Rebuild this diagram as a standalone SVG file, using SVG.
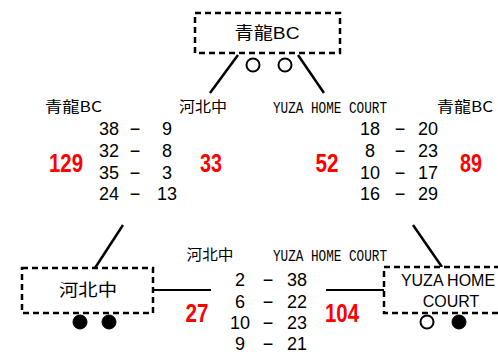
<svg xmlns="http://www.w3.org/2000/svg" width="498" height="352" viewBox="0 0 498 352">
<style>
.box{fill:#fff;stroke:#000;stroke-width:2.5;stroke-dasharray:6 4}
.conn{stroke:#000;stroke-width:2.5;fill:none}
.hconn{stroke:#000;stroke-width:2;fill:none}
.nodetxt{font-family:"Liberation Sans","Noto Sans CJK JP",sans-serif;font-size:17px;fill:#000;text-anchor:middle}
.nodetxt16{font-family:"Liberation Sans",sans-serif;font-size:16px;fill:#000;text-anchor:middle}
.lbl{font-family:"Noto Sans CJK JP","Liberation Sans",sans-serif;font-size:15px;fill:#000;text-anchor:middle}
.mono{font-family:"Liberation Mono",monospace;font-size:17px;fill:#000;text-anchor:middle}
.num{font-family:"Liberation Sans",sans-serif;font-size:18px;fill:#000;text-anchor:middle}
.tot{font-family:"Liberation Sans",sans-serif;font-size:26px;font-weight:bold;fill:#ff0000;text-anchor:middle}
.open{fill:#fff;stroke:#000;stroke-width:2}
.fill{fill:#000;stroke:#000;stroke-width:1}
</style>

<g id="connectors">
<line class="conn" x1="238" y1="55" x2="210" y2="93"/>
<line class="conn" x1="298" y1="55" x2="324" y2="93"/>
<line class="conn" x1="95" y1="268" x2="123" y2="225"/>
<line class="conn" x1="442" y1="267" x2="413" y2="225"/>
<line class="hconn" x1="153" y1="290" x2="211" y2="290"/>
<line class="hconn" x1="326" y1="290" x2="385" y2="290"/>
</g>

<g id="node-seiryu">
<rect class="box" x="195" y="13" width="145" height="40"/>
<text class="nodetxt" x="267" y="39" textLength="65" lengthAdjust="spacingAndGlyphs">青龍BC</text>
<circle class="open" cx="253" cy="65" r="6.5"/>
<circle class="open" cx="285" cy="65" r="6.5"/>
</g>

<g id="node-kahoku">
<rect class="box" x="22" y="268" width="131" height="45"/>
<text class="nodetxt" x="88" y="296" textLength="58" lengthAdjust="spacingAndGlyphs">河北中</text>
<circle class="fill" cx="80" cy="322" r="7"/>
<circle class="fill" cx="109" cy="322" r="7"/>
</g>

<g id="node-yuza">
<rect class="box" x="384" y="267" width="134" height="46"/>
<text class="nodetxt16" x="448" y="286">YUZA HOME</text>
<text class="nodetxt16" x="451" y="307">COURT</text>
<circle class="open" cx="427" cy="322" r="6.5"/>
<circle class="fill" cx="459" cy="322" r="7"/>
</g>

<g id="match-seiryu-kahoku">
<text class="lbl" x="73.5" y="112" textLength="57" lengthAdjust="spacingAndGlyphs">青龍BC</text>
<text class="lbl" x="203" y="112" textLength="48" lengthAdjust="spacingAndGlyphs">河北中</text>
<text class="num" x="109" y="134.5">38</text><text class="num" x="135" y="134.5">−</text><text class="num" x="167" y="134.5">9</text>
<text class="num" x="109" y="157">32</text><text class="num" x="135" y="157">−</text><text class="num" x="167" y="157">8</text>
<text class="num" x="109" y="178.5">35</text><text class="num" x="135" y="178.5">−</text><text class="num" x="167" y="178.5">3</text>
<text class="num" x="109" y="199.5">24</text><text class="num" x="135" y="199.5">−</text><text class="num" x="167" y="199.5">13</text>
<text class="tot" x="66" y="171.5" textLength="34" lengthAdjust="spacingAndGlyphs">129</text>
<text class="tot" x="211" y="171.5" textLength="22" lengthAdjust="spacingAndGlyphs">33</text>
</g>

<g id="match-yuza-seiryu">
<text class="mono" x="330" y="112.5" textLength="114" lengthAdjust="spacingAndGlyphs">YUZA HOME COURT</text>
<text class="lbl" x="465" y="112" textLength="56" lengthAdjust="spacingAndGlyphs">青龍BC</text>
<text class="num" x="370" y="134.5">18</text><text class="num" x="400" y="134.5">−</text><text class="num" x="428" y="134.5">20</text>
<text class="num" x="370" y="157">8</text><text class="num" x="400" y="157">−</text><text class="num" x="428" y="157">23</text>
<text class="num" x="370" y="178.5">10</text><text class="num" x="400" y="178.5">−</text><text class="num" x="428" y="178.5">17</text>
<text class="num" x="370" y="199.5">16</text><text class="num" x="400" y="199.5">−</text><text class="num" x="428" y="199.5">29</text>
<text class="tot" x="327" y="171.5" textLength="23" lengthAdjust="spacingAndGlyphs">52</text>
<text class="tot" x="471" y="171.5" textLength="22" lengthAdjust="spacingAndGlyphs">89</text>
</g>

<g id="match-kahoku-yuza">
<text class="lbl" x="210" y="260" textLength="47" lengthAdjust="spacingAndGlyphs">河北中</text>
<text class="mono" x="330" y="260.5" textLength="114" lengthAdjust="spacingAndGlyphs">YUZA HOME COURT</text>
<text class="num" x="240" y="285.5">2</text><text class="num" x="268" y="285.5">−</text><text class="num" x="297" y="285.5">38</text>
<text class="num" x="240" y="307.5">6</text><text class="num" x="268" y="307.5">−</text><text class="num" x="297" y="307.5">22</text>
<text class="num" x="240" y="328.5">10</text><text class="num" x="268" y="328.5">−</text><text class="num" x="297" y="328.5">23</text>
<text class="num" x="240" y="349.5">9</text><text class="num" x="268" y="349.5">−</text><text class="num" x="297" y="349.5">21</text>
<text class="tot" x="197" y="321.5" textLength="23" lengthAdjust="spacingAndGlyphs">27</text>
<text class="tot" x="342" y="321.5" textLength="34" lengthAdjust="spacingAndGlyphs">104</text>
</g>
</svg>
